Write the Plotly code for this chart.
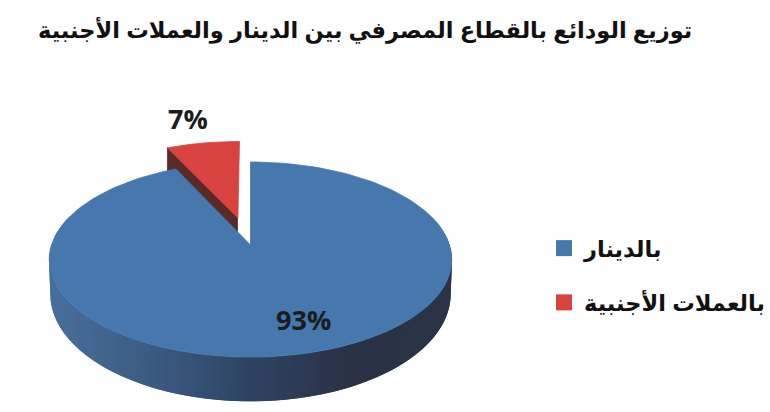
import numpy as np
import plotly.graph_objects as go

# data
title = "توزيع الودائع بالقطاع المصرفي بين الدينار والعملات الأجنبية"
labels = ["بالدينار", "بالعملات الأجنبية"]
shares = [93, 7]
explode = [0, 0.303]
top_colors = ["#4678ae", "#d8423f"]
cut_colors = ["#2f4464", "#5a2a28"]

# side wall shading, left to right
side_x = [49, 150, 250, 350, 452]
side_r = [72, 60, 47, 42, 44]
side_g = [112, 92, 68, 50, 52]
side_b = [156, 130, 100, 70, 72]

W, H = 770, 412
CX, CY = 250.5, 245
RX, RY, K = 199, 95.4, 0.149  # tilted disc, K is the perspective
DROP, FLOOR = 33, 1.1  # bottom rim of the wall


def project(u, v):
    d = 1 + K * v
    return CX + RX * u / d, CY - RY * v / d


def bottom(u, v):
    x, y = project(u, v)
    return CX + (x - CX) * 0.995, CY + (y - CY) * FLOOR + DROP


def slice_xy(start, end, off):
    mid = np.radians((start + end) / 2)
    t = np.radians(np.linspace(start, end, 160))
    u = np.r_[0, np.sin(t), 0] + off * np.sin(mid)
    v = np.r_[0, np.cos(t), 0] + off * np.cos(mid)
    return u, v


def add_poly(fig, x, y, color, width=0.8):
    fig.add_trace(go.Scatter(x=list(x), y=list(y), mode="lines", fill="toself",
                             fillcolor=color, line=dict(color=color, width=width),
                             hoverinfo="skip", showlegend=False))


fig = go.Figure()

ends = np.cumsum(shares) * 3.6
starts = ends - np.array(shares) * 3.6

# red slice: cut face then top, it sits behind the blue one
u, v = slice_xy(starts[1], ends[1], explode[1])
x0, y0 = project(u[0], v[0])
x1, y1 = project(u[1], v[1])
add_poly(fig, [x0, x1, x1, x0], [y0, y1, y1 + 40, y0 + 40], cut_colors[1])
add_poly(fig, *project(u, v), top_colors[1])

# blue wall, strips overlap so no seams show
t = np.radians(np.linspace(70, 290, 111))
for a, b in zip(t[:-2], t[2:]):
    ts = np.linspace(a, b, 5)
    xt, yt = project(np.sin(ts), np.cos(ts))
    xf, yf = bottom(np.sin(ts), np.cos(ts))
    mx = xt[1]
    color = "rgb(%d,%d,%d)" % (np.interp(mx, side_x, side_r),
                               np.interp(mx, side_x, side_g),
                               np.interp(mx, side_x, side_b))
    add_poly(fig, np.r_[xt, xf[::-1]], np.r_[yt, yf[::-1]], color, width=0)

# blue top
u, v = slice_xy(starts[0], ends[0], explode[0])
add_poly(fig, *project(u, v), top_colors[0])

# legend entries
for name, color in zip(labels, top_colors):
    fig.add_trace(go.Scatter(x=[None], y=[None], mode="markers", name=f"<b>{name}</b>",
                             legendgroup=name,
                             marker=dict(symbol="square", size=18, color=color)))

fig.add_annotation(x=303, y=319, text=f"<b>{shares[0]}%</b>", showarrow=False,
                   font=dict(family="Open Sans", size=27, color="#1c1c1c"))
fig.add_annotation(x=188, y=118, text=f"<b>{shares[1]}%</b>", showarrow=False,
                   font=dict(family="Open Sans", size=27, color="#1c1c1c"))
fig.add_annotation(x=365, y=30, text=f"<b>{title}</b>", showarrow=False,
                   font=dict(family="Liberation Sans, DejaVu Sans", size=22.5, color="#111111"))

fig.update_layout(
    width=W, height=H, margin=dict(l=0, r=0, t=0, b=0, autoexpand=False),
    paper_bgcolor="white", plot_bgcolor="white",
    xaxis=dict(range=[0, W], visible=False, fixedrange=True),
    yaxis=dict(range=[H, 0], visible=False, fixedrange=True),
    legend=dict(x=544 / W, y=1 - 227 / H, xanchor="left", yanchor="top",
                itemsizing="trace", tracegroupgap=22, itemwidth=30,
                font=dict(family="Liberation Sans, DejaVu Sans", size=22.5, color="#111111"),
                bgcolor="rgba(0,0,0,0)"),
)

fig.write_html("out.html", config=dict(displayModeBar=False),
               post_script="document.body.style.margin='0';")
